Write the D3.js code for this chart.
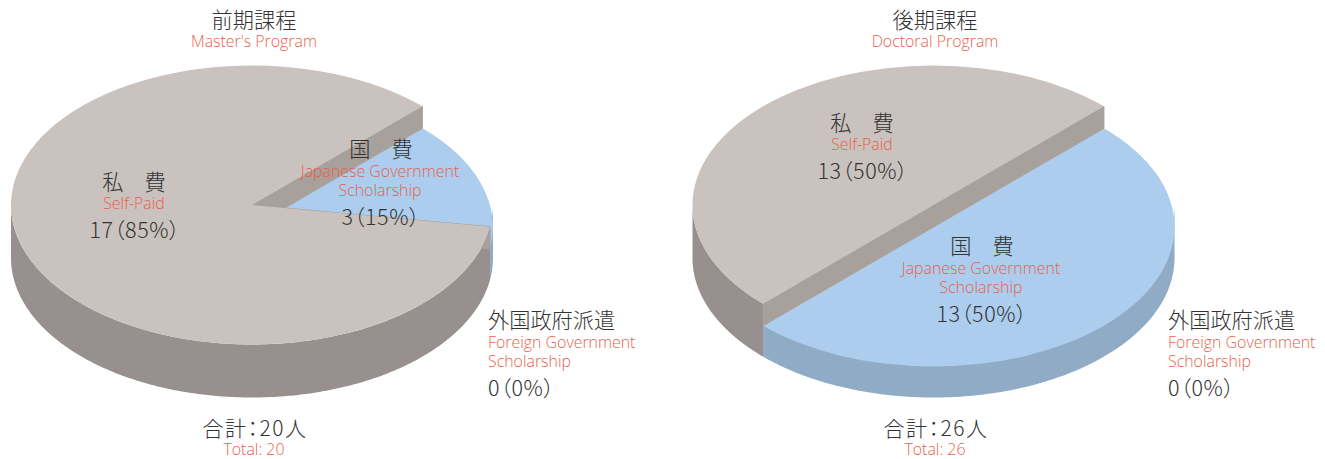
<!DOCTYPE html>
<html>
<head>
<meta charset="utf-8">
<script src="https://cdn.jsdelivr.net/npm/d3@7"></script>
<style>
  html, body { margin: 0; padding: 0; background: #fff; }
  svg { display: block; }
  text { font-family: "Noto Sans CJK JP", "Noto Sans", sans-serif; font-weight: 300; }
  .ja { font-size: 21.2px; fill: #333; }
  .en { font-family: "Open Sans", "Noto Sans", sans-serif; font-size: 15.9px; fill: #ea5f4b; }
  .num { font-size: 21.5px; fill: #333; font-feature-settings: "palt"; letter-spacing: 0.6px; }
  .total { font-size: 21px; fill: #333; font-feature-settings: "palt"; letter-spacing: 1.5px; }
</style>
</head>
<body>
<script>
const categories = ["gov", "self", "foreign"];
const labelsJa = ["国　費", "私　費", "外国政府派遣"];
const labelsEn = [
  ["Japanese Government", "Scholarship"],
  ["Self-Paid"],
  ["Foreign Government", "Scholarship"]
];
const masterValues = [3, 17, 0];
const doctorValues = [13, 13, 0];
const titles = ["前期課程", "後期課程"];
const subtitles = ["Master's Program", "Doctoral Program"];
const totals = [20, 26];

var width = 1325;
var height = 459;

var rx = 241;
var ry = 139.5;
var depth = 53;
var drop = 22; // the blue slice sits lower than the grey one

var topColor = d3.scaleOrdinal().domain(categories).range(["#accdee", "#c9c2be", "#accdee"]);
var sideColor = d3.scaleOrdinal().domain(categories).range(["#8fabc5", "#97908e", "#8fabc5"]);
var wallColor = "#a7a09b";

var svg = d3
  .select("body")
  .append("svg")
  .attr("width", width)
  .attr("height", height);

var pie = d3
  .pie()
  .sort(null)
  .value(function(d) {
    return d.value;
  })
  .startAngle(Math.PI / 4)
  .endAngle(Math.PI / 4 + 2 * Math.PI);

var arc = d3.arc().innerRadius(0).outerRadius(rx);

function rimX(cx, a) {
  return cx + rx * Math.sin(a);
}

function rimY(cy, a) {
  return cy - ry * Math.cos(a);
}

function drawPie(cx, cy, values) {
  var rows = categories.map(function(c, i) {
    return { key: c, value: values[i], sunken: c !== "self" };
  });
  var slices = pie(rows).filter(function(s) {
    return s.value > 0;
  });
  var g = svg.append("g");

  // outer walls, only the front half of the ellipse shows
  var side = d3
    .area()
    .x(function(a) {
      return rimX(cx, a);
    })
    .y0(function(a) {
      return rimY(cy, a);
    })
    .y1(function(a) {
      return rimY(cy, a) + depth;
    });

  slices.forEach(function(s) {
    var a0 = Math.max(s.startAngle, Math.PI / 2);
    var a1 = Math.min(s.endAngle, 1.5 * Math.PI);
    if (a1 <= a0) return;
    var angles = d3.range(a0, a1, 0.01).concat([a1]);
    g.append("path")
      .attr("d", side(angles))
      .attr("fill", sideColor(s.data.key));
  });

  slices
    .filter(function(s) {
      return s.data.sunken;
    })
    .forEach(function(s) {
      g.append("path")
        .attr("d", arc(s))
        .attr("transform", "translate(" + cx + "," + (cy + drop) + ") scale(1," + ry / rx + ")")
        .attr("fill", topColor(s.data.key));
    });

  // inner cut faces between the two levels
  var line = d3.line();
  slices
    .filter(function(s) {
      return !s.data.sunken;
    })
    .forEach(function(s) {
      [s.startAngle, s.endAngle].forEach(function(a) {
        var x = rimX(cx, a);
        var y = rimY(cy, a);
        g.append("path")
          .attr("d", line([[cx, cy], [x, y], [x, y + drop], [cx, cy + drop]]) + "Z")
          .attr("fill", wallColor)
          .attr("stroke", wallColor)
          .attr("stroke-width", 1);
      });
      g.append("path")
        .attr("d", arc(s))
        .attr("transform", "translate(" + cx + "," + cy + ") scale(1," + ry / rx + ")")
        .attr("fill", topColor(s.data.key));
    });
}

function put(x, y, str, cls, anchor) {
  svg
    .append("text")
    .attr("x", x)
    .attr("y", y)
    .attr("class", cls)
    .attr("text-anchor", anchor || "middle")
    .text(str);
}

function valueLabel(values, i) {
  var sum = d3.sum(values);
  return values[i] + "（" + Math.round((values[i] / sum) * 100) + "%）";
}

function drawLabels(k, values, selfPos, govPos, foreignX, titleX) {
  put(titleX, 28, titles[k], "ja");
  put(titleX, 47, subtitles[k], "en");

  put(selfPos.x, selfPos.y, labelsJa[1], "ja");
  put(selfPos.x, selfPos.y + 19, labelsEn[1][0], "en");
  put(selfPos.x + 1, selfPos.y + 48, valueLabel(values, 1), "num");

  put(govPos.x, govPos.y + 1, labelsJa[0], "ja");
  put(govPos.x - 1, govPos.y + 21, labelsEn[0][0], "en");
  put(govPos.x - 1, govPos.y + 40, labelsEn[0][1], "en");
  put(govPos.x, govPos.y + 69, valueLabel(values, 0), "num");

  put(foreignX, 328, labelsJa[2], "ja", "start");
  put(foreignX, 348, labelsEn[2][0], "en", "start");
  put(foreignX, 367, labelsEn[2][1], "en", "start");
  put(foreignX, 396, valueLabel(values, 2), "num", "start");

  put(titleX + 1, 436, "合計：" + totals[k] + "人", "total");
  put(titleX, 455, "Total: " + totals[k], "en");
}

drawPie(252, 205, masterValues);
drawPie(933.5, 205, doctorValues);

drawLabels(0, masterValues, { x: 134, y: 190 }, { x: 381, y: 156 }, 488, 254);
drawLabels(1, doctorValues, { x: 862, y: 131 }, { x: 982, y: 253 }, 1168, 935);
</script>
</body>
</html>
